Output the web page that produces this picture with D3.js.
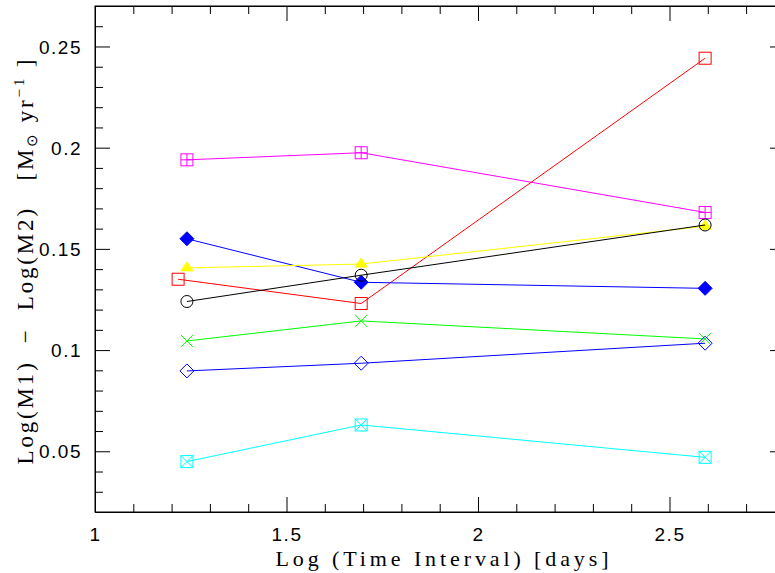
<!DOCTYPE html>
<html>
<head>
<meta charset="utf-8">
<script src="https://cdn.jsdelivr.net/npm/d3@7"></script>
<style>
  body { margin: 0; background: #fff; }
  svg { display: block; }
  .axis path { stroke: #000; }
  .axis line { stroke: #000; }
  .axis text { font-family: "Liberation Sans", sans-serif; font-size: 19px; letter-spacing: 1.5px; fill: #000; }
</style>
</head>
<body>
<svg id="chart"></svg>
<script>
// x positions (log of time interval, days)
var xLeft = 1.24, xLeftRed = 1.217, xMid = 1.695, xRight = 2.593;

// series values
var magentaVals = [0.194, 0.1975, 0.168];
var redVals     = [0.135, 0.123, 0.2442];
var blueFillVals = [0.155, 0.1335, 0.1305];
var yellowVals  = [0.1406, 0.1425, 0.1612];
var blackVals   = [0.124, 0.137, 0.1618];
var greenVals   = [0.1045, 0.1144, 0.1055];
var blueOpenVals = [0.0897, 0.0935, 0.1034];
var cyanVals    = [0.0449, 0.063, 0.047];

var xMajor = [1, 1.5, 2, 2.5];
var yMajor = [0.05, 0.1, 0.15, 0.2, 0.25];

var series = [
  {name: "magenta", color: "#ff00ff", sym: "squarePlus", xs: [xLeft, xMid, xRight], vals: magentaVals},
  {name: "red", color: "#ff0000", sym: "square", xs: [xLeftRed, xMid, xRight], vals: redVals},
  {name: "blueFill", color: "#0000ff", sym: "diamondFill", xs: [xLeft, xMid, xRight], vals: blueFillVals},
  {name: "yellow", color: "#ffff00", sym: "triangleFill", xs: [xLeft, xMid, xRight], vals: yellowVals},
  {name: "black", color: "#000000", sym: "circle", xs: [xLeft, xMid, xRight], vals: blackVals},
  {name: "green", color: "#00ff00", sym: "cross", xs: [xLeft, xMid, xRight], vals: greenVals},
  {name: "blueOpen", color: "#0000ff", sym: "diamond", xs: [xLeft, xMid, xRight], vals: blueOpenVals},
  {name: "cyan", color: "#00ffff", sym: "squareX", xs: [xLeft, xMid, xRight], vals: cyanVals}
];

var W = 775, H = 573;
var margin = {left: 95, top: 6};
var plotW = 690, plotH = 506;

var x = d3.scaleLinear().domain([1, 1 + plotW / 383]).range([0, plotW]);
var y = d3.scaleLinear().domain([0.02, 0.27]).range([plotH, 0]);

var svg = d3.select("#chart").attr("width", W).attr("height", H);
var g = svg.append("g").attr("transform", "translate(" + margin.left + "," + margin.top + ")");

// minor tick values
var xMinor = d3.range(1.1, 2.85, 0.1).filter(function(v){ return Math.abs(v*2 - Math.round(v*2)) > 1e-6; });
var yMinor = d3.range(0.03, 0.27, 0.01).filter(function(v){ return Math.abs(v*20 - Math.round(v*20)) > 1e-6; });

// bottom axis
var xAx = g.append("g").attr("class", "axis").attr("transform", "translate(0," + plotH + ")")
  .call(d3.axisBottom(x).tickValues(xMajor).tickSize(-15).tickSizeOuter(0)
    .tickFormat(function(d){ return d3.format("")(d); }));
xAx.selectAll("text").attr("dy", null).attr("y", 29);
g.append("g").attr("class", "axis").attr("transform", "translate(0," + plotH + ")")
  .call(d3.axisBottom(x).tickValues(xMinor).tickSize(-8).tickSizeOuter(0).tickFormat(""));
// top axis
g.append("g").attr("class", "axis")
  .call(d3.axisTop(x).tickValues(xMajor).tickSize(-15).tickSizeOuter(0).tickFormat(""));
g.append("g").attr("class", "axis")
  .call(d3.axisTop(x).tickValues(xMinor).tickSize(-8).tickSizeOuter(0).tickFormat(""));
// left axis
var yAx = g.append("g").attr("class", "axis")
  .call(d3.axisLeft(y).tickValues(yMajor).tickSize(-15).tickSizeOuter(0).tickPadding(13)
    .tickFormat(function(d){ return d3.format("")(d); }));
yAx.selectAll("text").attr("dy", "0.35em");
g.append("g").attr("class", "axis")
  .call(d3.axisLeft(y).tickValues(yMinor).tickSize(-8).tickSizeOuter(0).tickFormat(""));
// right axis
g.append("g").attr("class", "axis").attr("transform", "translate(" + plotW + ",0)")
  .call(d3.axisRight(y).tickValues(yMajor).tickSize(-15).tickSizeOuter(0).tickFormat(""));

// lines and markers
var line = d3.line().x(function(d){ return x(d[0]); }).y(function(d){ return y(d[1]); });
series.forEach(function(s){
  var pts = s.xs.map(function(xv, i){ return [xv, s.vals[i]]; });
  g.append("path").datum(pts).attr("d", line)
    .attr("fill", "none").attr("stroke", s.color).attr("stroke-width", 1);

  pts.forEach(function(p){
    var px = x(p[0]), py = y(p[1]);
    var m = g.append("g").attr("transform", "translate(" + px + "," + py + ")")
      .attr("stroke", s.color).attr("fill", "none").attr("stroke-width", 1);
    var h = 6;
    if (s.sym === "square" || s.sym === "squarePlus" || s.sym === "squareX") {
      m.append("rect").attr("x", -h).attr("y", -h).attr("width", 2*h).attr("height", 2*h);
      if (s.sym === "squarePlus") m.append("path").attr("d", "M0,-6V6M-6,0H6");
      if (s.sym === "squareX") m.append("path").attr("d", "M-6,-6L6,6M-6,6L6,-6");
    } else if (s.sym === "circle") {
      m.append("circle").attr("r", 6);
    } else if (s.sym === "diamond" || s.sym === "diamondFill") {
      m.append("path").attr("d", "M0,-7L7,0L0,7L-7,0Z")
        .attr("fill", s.sym === "diamondFill" ? s.color : "none");
    } else if (s.sym === "triangleFill") {
      m.append("path").attr("d", "M0,-6L6,3L-6,3Z").attr("fill", s.color);
    } else if (s.sym === "cross") {
      m.append("path").attr("d", "M-6,-6L6,6M-6,6L6,-6");
    }
  });
});

// frame
g.append("rect").attr("width", plotW).attr("height", plotH)
  .attr("fill", "none").attr("stroke", "#000").attr("stroke-width", 1);

// axis titles
svg.append("text").attr("x", 442).attr("y", 566).attr("text-anchor", "middle")
  .attr("font-family", "Liberation Serif, serif").attr("font-size", 22)
  .attr("textLength", 333).attr("lengthAdjust", "spacing")
  .style("white-space", "pre")
  .text("Log (Time Interval) [days]");

var yt = svg.append("text").attr("transform", "translate(33,262) rotate(-90)")
  .attr("text-anchor", "middle").attr("font-family", "Liberation Serif, serif").attr("font-size", 23)
  .attr("textLength", 405).attr("lengthAdjust", "spacing")
  .style("white-space", "pre");
yt.append("tspan").text("Log(M1)  \u2212  Log(M2)   [M");
yt.append("tspan").attr("font-size", 15).attr("dy", 4).text("\u2299");
yt.append("tspan").attr("dy", -4).text(" yr");
yt.append("tspan").attr("font-size", 15).attr("dy", -9).text("\u22121");
yt.append("tspan").attr("dy", 9).text(" ]");
</script>
</body>
</html>
